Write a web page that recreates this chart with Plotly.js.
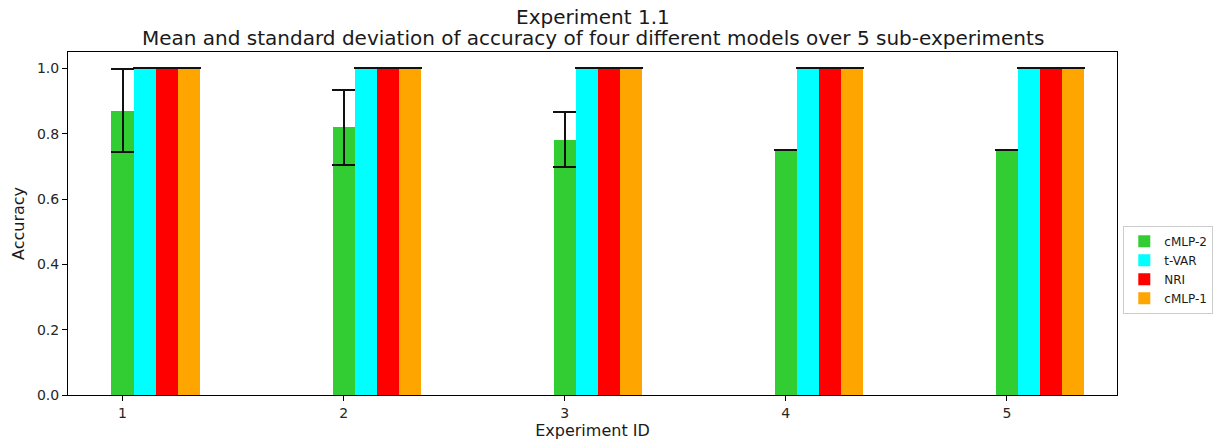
<!DOCTYPE html>
<html>
<head>
<meta charset="utf-8">
<script src="https://cdn.plot.ly/plotly-3.0.1.min.js"></script>
<style>html,body{margin:0;padding:0;background:#fff;}#chart{width:1225px;height:442px;}</style>
</head>
<body>
<div id="chart"></div>
<script>
const experimentIds = [1, 2, 3, 4, 5];
const modelNames = ["cMLP-2", "t-VAR", "NRI", "cMLP-1"];
const cmlp2Mean = [0.870, 0.820, 0.782, 0.750, 0.750];
const cmlp2Std  = [0.127, 0.115, 0.083, 0.0, 0.0];
const tvarMean  = [1.0, 1.0, 1.0, 1.0, 1.0];
const tvarStd   = [0, 0, 0, 0, 0];
const nriMean   = [1.0, 1.0, 1.0, 1.0, 1.0];
const nriStd    = [0, 0, 0, 0, 0];
const cmlp1Mean = [1.0, 1.0, 1.0, 1.0, 1.0];
const cmlp1Std  = [0, 0, 0, 0, 0];
const yTickVals = [0, 0.2, 0.4, 0.6, 0.8, 1.0];
const yTickText = ["0.0", "0.2", "0.4", "0.6", "0.8", "1.0"];
const titleLine1 = "Experiment 1.1";
const titleLine2 = "Mean and standard deviation of accuracy of four different models over 5 sub-experiments";

const colors = ["#32CD32", "#00FFFF", "#FF0000", "#FFA500"];
const means = [cmlp2Mean, tvarMean, nriMean, cmlp1Mean];
const stds = [cmlp2Std, tvarStd, nriStd, cmlp1Std];
const barWidth = 0.1;

const font = "DejaVu Sans, sans-serif";
const traces = modelNames.map((name, k) => ({
  type: "bar",
  name: name,
  x: experimentIds.map(v => v + k * barWidth),
  y: means[k],
  width: barWidth,
  marker: {color: colors[k], line: {width: 0}},
  error_y: {type: "data", array: stds[k], visible: true, color: "#111111", thickness: 2, width: 12},
}));

const titleFont = {family: font, size: 20, color: "#1a1a1a"};
const layout = {
  width: 1225, height: 442,
  margin: {l: 68, r: 106, t: 52, b: 47},
  paper_bgcolor: "#fff", plot_bgcolor: "#fff",
  barmode: "overlay",
  bargap: 0,
  font: {family: font, color: "#262626", size: 13},
  annotations: [{
    text: titleLine1,
    xref: "paper", x: 0.5, xanchor: "center",
    yref: "paper", y: 1.102, yanchor: "middle",
    showarrow: false, font: titleFont
  }, {
    text: titleLine2,
    xref: "paper", x: 0.5, xanchor: "center",
    yref: "paper", y: 1.041, yanchor: "middle",
    showarrow: false, font: titleFont
  }],
  xaxis: {
    range: [0.7535, 5.498],
    tickvals: experimentIds, ticktext: experimentIds.map(String),
    ticks: "outside", ticklen: 5, tickcolor: "#000", tickwidth: 1,
    showline: true, linecolor: "#000", linewidth: 1, mirror: true,
    showgrid: false, zeroline: false,
    tickfont: {size: 14, family: font, color: "#262626"},
    title: {text: "Experiment ID", font: {size: 16, family: font, color: "#1a1a1a"}, standoff: 5}
  },
  yaxis: {
    range: [0, 1.05],
    tickvals: yTickVals, ticktext: yTickText,
    ticks: "outside", ticklen: 5, tickcolor: "#000", tickwidth: 1,
    showline: true, linecolor: "#000", linewidth: 1, mirror: true,
    showgrid: false, zeroline: false,
    tickfont: {size: 14, family: font, color: "#262626"},
    title: {text: "Accuracy", font: {size: 16, family: font, color: "#1a1a1a"}, standoff: 8}
  },
  showlegend: true,
  legend: {
    x: 1.006, xanchor: "left", y: 0.365, yanchor: "middle",
    bordercolor: "#cccccc", borderwidth: 1, bgcolor: "#fff",
    font: {size: 12, family: font, color: "#1a1a1a"},
    tracegroupgap: 0
  }
};

Plotly.newPlot("chart", traces, layout, {displayModeBar: false, staticPlot: true});
</script>
</body>
</html>
